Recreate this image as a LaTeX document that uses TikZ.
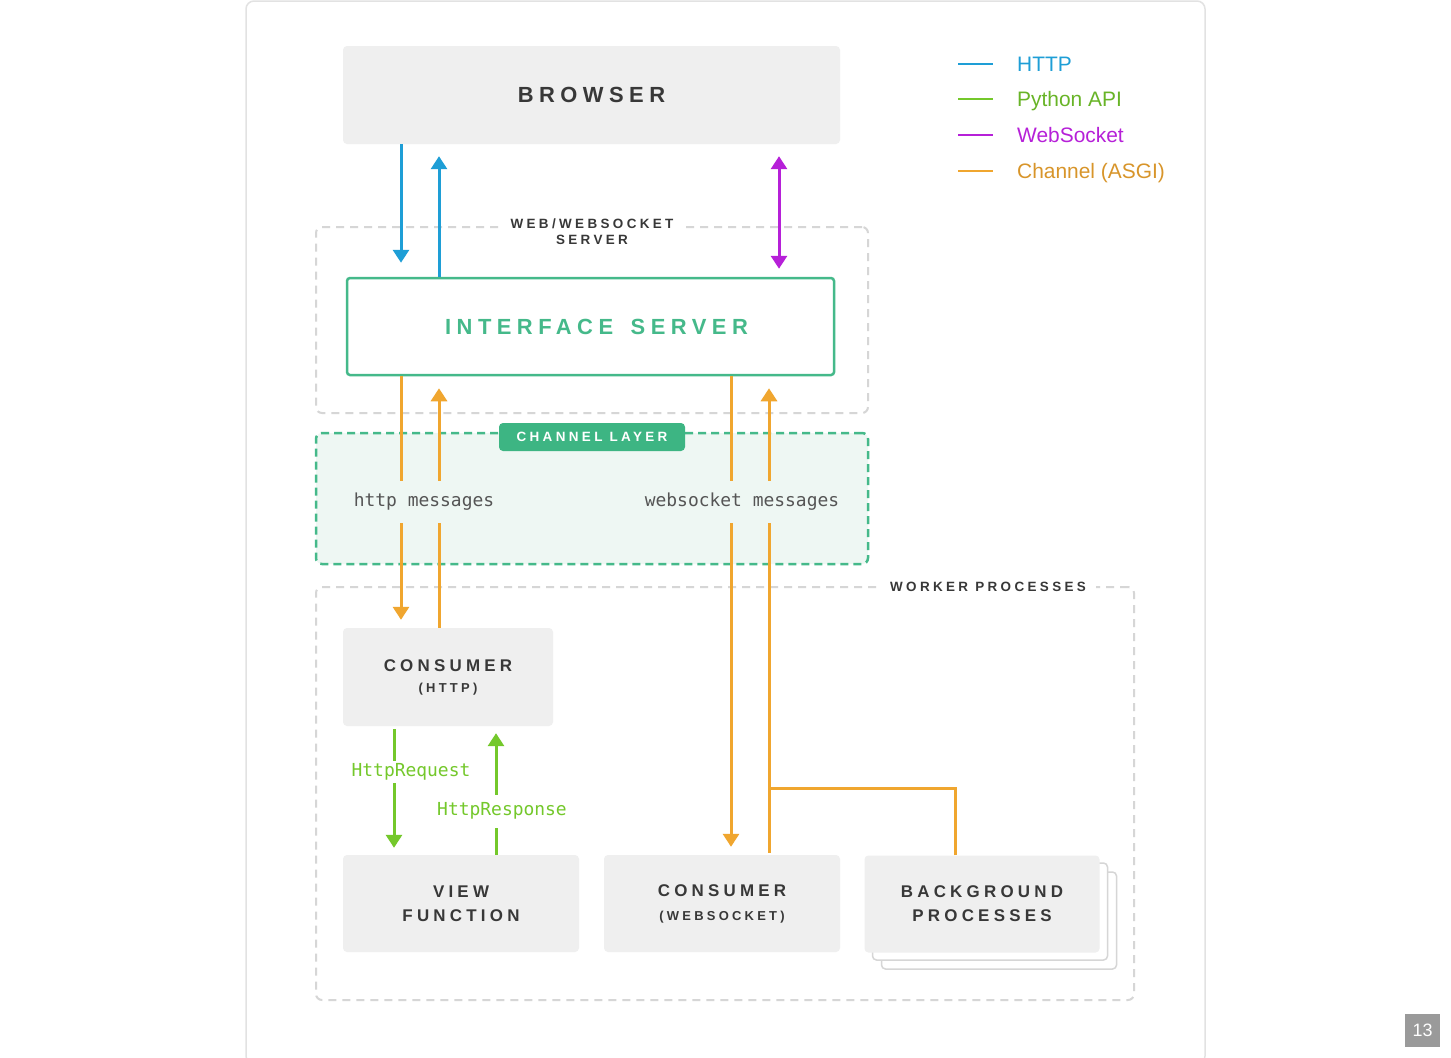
\documentclass[tikz,border=0pt]{standalone}
\usepackage{fontspec}
\setmainfont{Liberation Sans}
\newfontfamily\lblfont[LetterSpace=25]{Liberation Sans}
\newfontfamily\monofont{DejaVu Sans Mono}
\usetikzlibrary{arrows.meta,calc}
\definecolor{boxgray}{HTML}{EFEFEF}
\definecolor{dashgray}{HTML}{D6D6D6}
\definecolor{framegray}{HTML}{E2E2E2}
\definecolor{txtdark}{HTML}{383838}
\definecolor{ifgreen}{HTML}{45B98A}
\definecolor{tagreen}{HTML}{3DB583}
\definecolor{chanfill}{HTML}{EEF7F3}
\definecolor{httpc}{HTML}{1E9ED6}
\definecolor{wsc}{HTML}{B620D8}
\definecolor{chc}{HTML}{F0A62F}
\definecolor{pyc}{HTML}{74C82B}
\definecolor{monogray}{HTML}{555555}
\definecolor{pgray}{HTML}{9A9A9A}
\begin{document}
\begin{tikzpicture}[x=1bp,y=-1bp,
  graybox/.style={fill=boxgray, rounded corners=4bp, inner sep=0pt, text=txtdark, align=center},
  bigcaps/.style={font=\lblfont\bfseries\fontsize{22}{26}\selectfont},
  midcaps/.style={font=\lblfont\bfseries\fontsize{17}{24}\selectfont},
  conscaps/.style={font=\lblfont\bfseries\fontsize{17}{21}\selectfont},
  smallcaps/.style={font=\lblfont\bfseries\fontsize{13.5}{16}\selectfont},
  dashbox/.style={draw=dashgray, line width=2bp, dash pattern=on 8bp off 6bp, rounded corners=6bp, inner sep=0pt},
  chanbox/.style={draw=ifgreen, fill=chanfill, line width=2.5bp, dash pattern=on 8bp off 5bp, rounded corners=6bp, inner sep=0pt},
  ifacebox/.style={draw=ifgreen, fill=white, line width=2.5bp, rounded corners=3bp, inner sep=0pt, text=ifgreen, bigcaps},
  tagbox/.style={fill=tagreen, rounded corners=4bp, inner sep=0pt, text=white, smallcaps},
  cardbox/.style={draw=dashgray, fill=white, line width=1.5bp, rounded corners=4bp, inner sep=0pt},
  monolbl/.style={font=\monofont\fontsize{18}{20}\selectfont, inner xsep=2bp, inner ysep=0pt},
  conn/.style={line width=3bp, -{Triangle[width=16bp,length=13bp]}},
  conn2/.style={line width=3bp, {Triangle[width=16bp,length=13bp]}-{Triangle[width=16bp,length=13bp]}},
  legline/.style={line width=2.5bp},
  legtext/.style={anchor=base west, inner sep=0pt, font=\fontsize{21}{24}\selectfont}
]
\useasboundingbox (0,0) rectangle (1451,1057);
\fill[white] (0,0) rectangle (1451,1057);
% outer frame
\draw[framegray, line width=1.5bp, rounded corners=8bp] (246,1) rectangle (1205,1064);

% x positions
\coordinate (xa) at (401,0);
\coordinate (xb) at (439,0);
\coordinate (xc) at (731,0);
\coordinate (xd) at (769,0);
\coordinate (xe) at (955,0);
\coordinate (xw) at (779,0);
\coordinate (xg) at (394,0);
\coordinate (xh) at (496,0);

% containers
\node[dashbox, minimum width=552bp, minimum height=186bp] (websrv) at (592,320) {};
\node[chanbox, minimum width=552bp, minimum height=131bp] (chan) at (592,498.5) {};
\node[dashbox, minimum width=818bp, minimum height=413bp] (worker) at (725,793.5) {};

% boxes
\node[graybox, bigcaps, minimum width=497bp, minimum height=98bp] (browser) at (591.5,95) {BROWSER};
\node[ifacebox, minimum width=487bp, minimum height=97bp] (iface) at (590.5,326.5) {\kern12bp INTERFACE\kern6bp{} SERVER};
\node[graybox, conscaps, minimum width=210bp, minimum height=98bp] (conhttp) at (448,677)
  {CONSUMER\\{\fontsize{13}{16}\selectfont (HTTP)}};
\node[graybox, midcaps, minimum width=236bp, minimum height=97bp] (view) at (461,903.5) {VIEW\\FUNCTION};
\node[graybox, conscaps, minimum width=236bp, minimum height=97bp] (conws) at (722,903.5)
  {CONSUMER\\[3bp]{\fontsize{13}{16}\selectfont (WEBSOCKET)}};
\node[cardbox, minimum width=235bp, minimum height=97bp] (bg3) at (999,920.5) {};
\node[cardbox, minimum width=235bp, minimum height=97bp] (bg2) at (990,911.5) {};
\node[graybox, midcaps, minimum width=235bp, minimum height=97bp] (bg) at (982,904) {BACKGROUND\\PROCESSES};

% HTTP arrows
\draw[conn, httpc, shorten >=14bp] (browser.south -| xa) -- (iface.north -| xa);
\draw[conn, httpc, shorten >=12bp] (iface.north -| xb) -- (browser.south -| xb);
% WebSocket
\draw[conn2, wsc, shorten <=12bp, shorten >=8bp] (browser.south -| xw) -- (iface.north -| xw);
% Channel arrows
\draw[conn, chc, shorten >=8bp] (iface.south -| xa) -- (conhttp.north -| xa);
\draw[conn, chc, shorten >=12bp] (conhttp.north -| xb) -- (iface.south -| xb);
\draw[conn, chc, shorten >=8bp] (iface.south -| xc) -- (conws.north -| xc);
\draw[conn, chc, shorten >=12bp, shorten <=2bp] (conws.north -| xd) -- (iface.south -| xd);
\coordinate (jn) at (769,788);
\draw[chc, line width=3bp] (bg.north -| xe) |- (jn);
% Python API
\draw[conn, pyc, shorten >=7bp, shorten <=3bp] (conhttp.south -| xg) -- (view.north -| xg);
\draw[conn, pyc, shorten >=7bp] (view.north -| xh) -- (conhttp.south -| xh);

% labels over lines
\node[fill=white, smallcaps, text=txtdark, align=center, inner xsep=12bp, inner ysep=1bp] (websrvlbl) at (592,232) {WEB/WEBSOCKET\\SERVER};
\node[tagbox, minimum width=186bp, minimum height=28bp] (chantag) at (592,437) {CHANNEL LAYER};
\node[fill=white, smallcaps, text=txtdark, inner xsep=10bp, inner ysep=2bp] (workerlbl) at (988,587) {WORKER PROCESSES};
\node[monolbl, fill=chanfill, text=monogray, minimum height=42bp] (httpmsg) at (424,502) {http messages};
\node[monolbl, fill=chanfill, text=monogray, minimum height=42bp] (wsmsg) at (742,502) {websocket messages};
\node[monolbl, fill=white, text=pyc, minimum height=22bp] (hreq) at (411,772) {HttpRequest};
\node[monolbl, fill=white, text=pyc, minimum height=33bp] (hresp) at (502,811) {HttpResponse};

% legend
\node[legtext, text=httpc] (lg1) at (1017,71.5) {HTTP};
\node[legtext, text=pyc!90!black] (lg2) at (1017,106.5) {Python API};
\node[legtext, text=wsc] (lg3) at (1017,142.5) {WebSocket};
\node[legtext, text=chc!90!black] (lg4) at (1017,178.5) {Channel (ASGI)};
\draw[legline, httpc] ($(lg1.base west)+(-59,-7.5)$) -- ++(35,0);
\draw[legline, pyc] ($(lg2.base west)+(-59,-7.5)$) -- ++(35,0);
\draw[legline, wsc] ($(lg3.base west)+(-59,-7.5)$) -- ++(35,0);
\draw[legline, chc] ($(lg4.base west)+(-59,-7.5)$) -- ++(35,0);

% page number
\node[fill=pgray, text=white, minimum width=35bp, minimum height=33bp, inner sep=0pt, font=\fontsize{18}{20}\selectfont] (pnum) at (1422.5,1030.5) {13};
\end{tikzpicture}
\end{document}
